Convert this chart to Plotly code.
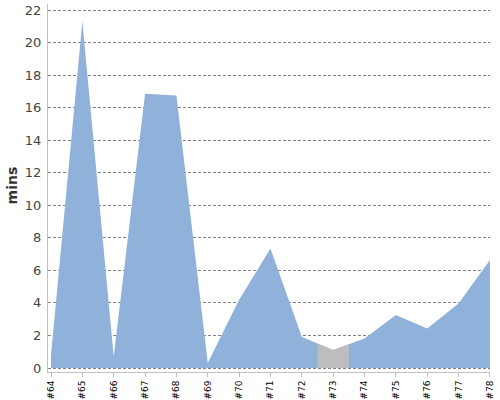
import plotly.graph_objects as go

categories = ["#64", "#65", "#66", "#67", "#68", "#69", "#70", "#71",
              "#72", "#73", "#74", "#75", "#76", "#77", "#78"]
values = [0.8, 21.3, 0.7, 16.85, 16.75, 0.3, 4.2, 7.35,
          1.9, 1.1, 1.82, 3.26, 2.42, 3.97, 6.64]
highlight_index = 9  # "#73" drawn in grey
y_ticks = [0, 2, 4, 6, 8, 10, 12, 14, 16, 18, 20, 22]

x_idx = list(range(len(categories)))

fig = go.Figure()
fig.add_trace(go.Scatter(
    x=x_idx, y=values, mode="lines", fill="tozeroy",
    line=dict(width=0, color="#8FB1DA"), fillcolor="#8FB1DA",
    hoverinfo="skip", showlegend=False,
))

h = highlight_index
gx = [h - 0.5, h, h + 0.5]
gy = [(values[h - 1] + values[h]) / 2, values[h], (values[h] + values[h + 1]) / 2]
fig.add_trace(go.Scatter(
    x=gx, y=gy, mode="lines", fill="tozeroy",
    line=dict(width=0, color="#BDBDBD"), fillcolor="#BDBDBD",
    hoverinfo="skip", showlegend=False,
))

fig.update_layout(
    width=500, height=400,
    margin=dict(l=48, r=10, t=4, b=28, autoexpand=False),
    paper_bgcolor="white", plot_bgcolor="white",
    font=dict(family="DejaVu Sans", color="#444"),
    annotations=[dict(
        text="<b>mins</b>", xref="paper", yref="paper", x=-0.0814, y=0.507,
        xanchor="center", yanchor="middle", textangle=-90, showarrow=False,
        font=dict(size=14, color="#333"),
    )],
)
fig.update_xaxes(
    range=[-0.096, 14.002], tickmode="array", tickvals=x_idx, ticktext=categories,
    tickangle=-90, tickfont=dict(size=9, color="#000"), automargin=False,
    showgrid=False, zeroline=False,
    showline=True, linecolor="#C0C0C0", linewidth=1,
    ticks="outside", ticklen=4, tickcolor="#C0C0C0",
)
fig.update_yaxes(
    range=[-0.246, 22.37], tickmode="array", tickvals=y_ticks,
    tickfont=dict(size=13, color="#444"), automargin=False, ticklabelstandoff=3,
    showgrid=True, gridcolor="#808080", griddash="3px,2px", gridwidth=1,
    zeroline=False, showline=True, linecolor="#C0C0C0", linewidth=1,
    ticks="",
)

fig.write_html(
    "out.html",
    config={"displayModeBar": False},
    post_script="document.body.style.margin='0';document.body.style.overflow='hidden';",
)
